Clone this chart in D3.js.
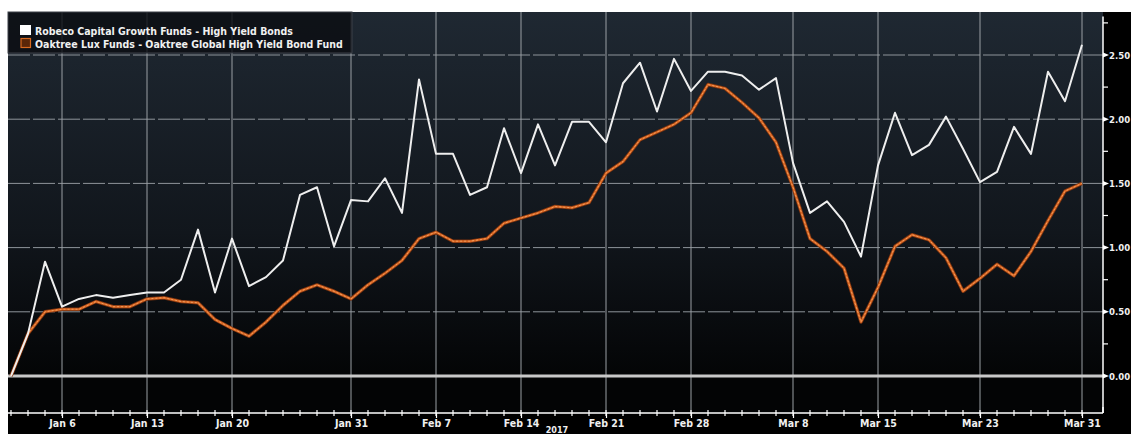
<!DOCTYPE html>
<html>
<head>
<meta charset="utf-8">
<script src="https://cdn.jsdelivr.net/npm/d3@7"></script>
<style>
  body { margin: 0; background: #fff; overflow: hidden; }
  svg { display: block; }
  text { font-family: "Liberation Sans Narrow", "DejaVu Sans Condensed", sans-serif; font-weight: bold; fill: #f0f0f0; }
</style>
</head>
<body>
<script>
const W = 1131, H = 434

// business days, Jan 3 - Mar 31 2017
const days = [
  "Jan 3","Jan 4","Jan 5","Jan 6","Jan 9","Jan 10","Jan 11","Jan 12","Jan 13","Jan 16","Jan 17","Jan 18","Jan 19","Jan 20",
  "Jan 23","Jan 24","Jan 25","Jan 26","Jan 27","Jan 30","Jan 31",
  "Feb 1","Feb 2","Feb 3","Feb 6","Feb 7","Feb 8","Feb 9","Feb 10","Feb 13","Feb 14","Feb 15","Feb 16","Feb 17",
  "Feb 20","Feb 21","Feb 22","Feb 23","Feb 24","Feb 27","Feb 28",
  "Mar 1","Mar 2","Mar 3","Mar 6","Mar 7","Mar 8","Mar 9","Mar 10","Mar 13","Mar 14","Mar 15","Mar 16","Mar 17",
  "Mar 20","Mar 21","Mar 22","Mar 23","Mar 24","Mar 27","Mar 28","Mar 29","Mar 30","Mar 31"
]
const robeco = [0, 0.33, 0.89, 0.54, 0.60, 0.63, 0.61, 0.63, 0.65, 0.65, 0.75, 1.14, 0.65, 1.07, 0.70, 0.77,
  0.90, 1.41, 1.47, 1.01, 1.37, 1.36, 1.54, 1.27, 2.31, 1.73, 1.73, 1.41, 1.47, 1.93, 1.58, 1.96,
  1.64, 1.98, 1.98, 1.82, 2.28, 2.44, 2.06, 2.47, 2.22, 2.37, 2.37, 2.34, 2.23, 2.32, 1.66, 1.27,
  1.36, 1.20, 0.93, 1.64, 2.05, 1.72, 1.80, 2.02, 1.77, 1.51, 1.59, 1.94, 1.73, 2.37, 2.14, 2.58]
const oaktree = [0, 0.33, 0.50, 0.52, 0.52, 0.58, 0.54, 0.54, 0.60, 0.61, 0.58, 0.57, 0.44, 0.37, 0.31, 0.42,
  0.55, 0.66, 0.71, 0.66, 0.60, 0.71, 0.80, 0.90, 1.07, 1.12, 1.05, 1.05, 1.07, 1.19, 1.23, 1.27,
  1.32, 1.31, 1.35, 1.58, 1.67, 1.84, 1.90, 1.96, 2.05, 2.27, 2.24, 2.13, 2.01, 1.82, 1.47, 1.07,
  0.97, 0.84, 0.42, 0.69, 1.01, 1.10, 1.06, 0.92, 0.66, 0.76, 0.87, 0.78, 0.97, 1.21, 1.44, 1.50]
const dateTicks = ["Jan 6","Jan 13","Jan 20","Jan 31","Feb 7","Feb 14","Feb 21","Feb 28","Mar 8","Mar 15","Mar 23","Mar 31"]
const yTicks = [0, 0.5, 1, 1.5, 2, 2.5]
const yMinor = [0.25, 0.75, 1.25, 1.75, 2.25, 2.75]
const seriesNames = ["Robeco Capital Growth Funds - High Yield Bonds", "Oaktree Lux Funds - Oaktree Global High Yield Bond Fund"]

const plot = {left: 8, top: 12, right: 1103, bottom: 413}

const x = d3.scalePoint().domain(days).range([11, 1082])
const y = d3.scaleLinear().domain([0, 2.5]).range([376, 55])

const svg = d3.select("body").append("svg").attr("width", W).attr("height", H)

const grad = svg.append("defs").append("linearGradient")
    .attr("id", "bg").attr("x1", 0).attr("y1", 0).attr("x2", 0).attr("y2", 1)
grad.append("stop").attr("offset", 0).attr("stop-color", "#1f2832")
grad.append("stop").attr("offset", 0.55).attr("stop-color", "#11161c")
grad.append("stop").attr("offset", 0.92).attr("stop-color", "#030405")

// black frame, then plot background
svg.append("rect").attr("x", plot.left).attr("y", plot.top)
    .attr("width", W - plot.left).attr("height", H - plot.top).attr("fill", "#000")
svg.append("rect").attr("x", plot.left).attr("y", plot.top)
    .attr("width", plot.right - plot.left).attr("height", plot.bottom - plot.top).attr("fill", "url(#bg)")

// grid
svg.append("g").selectAll("line").data(yTicks.filter(d => d > 0)).join("line")
    .attr("x1", plot.left).attr("x2", plot.right)
    .attr("y1", d => y(d)).attr("y2", d => y(d))
    .attr("stroke", "#8e949a").attr("stroke-width", 1).attr("stroke-dasharray", "22,3")
svg.append("g").selectAll("line").data(dateTicks).join("line")
    .attr("x1", d => x(d)).attr("x2", d => x(d))
    .attr("y1", plot.top).attr("y2", plot.bottom)
    .attr("stroke", "#9a9fa4").attr("stroke-width", 1)

// zero line
svg.append("line").attr("x1", plot.left).attr("x2", plot.right)
    .attr("y1", y(0)).attr("y2", y(0))
    .attr("stroke", "#c9c9c9").attr("stroke-width", 3)

// lines
const line = d3.line().x((d, i) => x(days[i])).y(d => y(d))
svg.append("path").datum(oaktree).attr("d", line)
    .attr("fill", "none").attr("stroke", "#7a3310").attr("stroke-width", 3.5).attr("stroke-linejoin", "round")
svg.append("path").datum(oaktree).attr("d", line)
    .attr("fill", "none").attr("stroke", "#dc6a26").attr("stroke-width", 2).attr("stroke-linejoin", "round")
svg.append("path").datum(oaktree).attr("d", line)
    .attr("fill", "none").attr("stroke", "#f5a86a").attr("stroke-width", 0.8).attr("stroke-dasharray", "2,2")
svg.append("path").datum(robeco).attr("d", line)
    .attr("fill", "none").attr("stroke", "#eeeeee").attr("stroke-width", 2).attr("stroke-linejoin", "round")

// x axis: minor ticks every day, labels on date ticks
const xg = svg.append("g").attr("transform", `translate(0,${plot.bottom})`)
xg.append("line").attr("x1", plot.left).attr("x2", plot.right).attr("stroke", "#fff").attr("stroke-width", 1.5)
xg.selectAll("line.minor").data(days).join("line").attr("class", "minor")
    .attr("x1", d => x(d)).attr("x2", d => x(d)).attr("y1", -3).attr("y2", 3)
    .attr("stroke", "#fff").attr("stroke-width", 1.2)
xg.call(d3.axisBottom(x).tickValues(dateTicks).tickSize(5).tickPadding(2))
    .call(g => g.select(".domain").remove())
    .call(g => g.selectAll(".tick line").attr("stroke", "#fff").attr("stroke-width", 1.2))
    .call(g => g.selectAll(".tick text").attr("font-size", 10.5).attr("fill", "#f0f0f0")
        .attr("font-family", null).attr("font-weight", "bold"))
svg.append("text").attr("x", 557).attr("y", 433).attr("text-anchor", "middle")
    .attr("font-size", 9).text("2017")
svg.append("line").attr("x1", plot.right).attr("x2", plot.right)
    .attr("y1", plot.bottom).attr("y2", plot.bottom - 6).attr("stroke", "#fff").attr("stroke-width", 1.5)

// right axis
const yg = svg.append("g").attr("transform", `translate(${plot.right},0)`)
yg.append("line").attr("y1", y(2.8)).attr("y2", plot.bottom).attr("stroke", "#fff").attr("stroke-width", 1.5)
yg.selectAll("line.minor").data(yMinor).join("line").attr("class", "minor")
    .attr("x1", 0).attr("x2", 5).attr("y1", d => y(d)).attr("y2", d => y(d))
    .attr("stroke", "#fff").attr("stroke-width", 1.2)
yg.call(d3.axisRight(y).tickValues(yTicks).tickFormat(d3.format(".2f")).tickSize(0).tickPadding(6))
    .call(g => g.select(".domain").remove())
    .call(g => g.selectAll(".tick text").attr("font-size", 9.5).attr("fill", "#f0f0f0")
        .attr("font-family", null).attr("font-weight", "bold"))
yg.selectAll("path.arrow").data(yTicks).join("path").attr("class", "arrow")
    .attr("d", d => `M0,${y(d) - 2.5}L6,${y(d)}L0,${y(d) + 2.5}Z`).attr("fill", "#fff")

// legend
const lg = svg.append("g")
lg.append("rect").attr("x", plot.left).attr("y", plot.top).attr("width", 344).attr("height", 41)
    .attr("fill", "#0b0e12").attr("fill-opacity", 0.82).attr("stroke", "#3c4148")
lg.append("rect").attr("x", 20).attr("y", 25).attr("width", 11).attr("height", 10).attr("fill", "#fff")
lg.append("rect").attr("x", 21).attr("y", 38.5).attr("width", 9.5).attr("height", 9).attr("fill", "#5a2608")
    .attr("stroke", "#d8691f").attr("stroke-width", 1.2)
lg.selectAll("text").data(seriesNames).join("text")
    .attr("x", 35).attr("y", (d, i) => 34.5 + i * 13)
    .attr("font-size", 10.5).text(d => d)
</script>
</body>
</html>
